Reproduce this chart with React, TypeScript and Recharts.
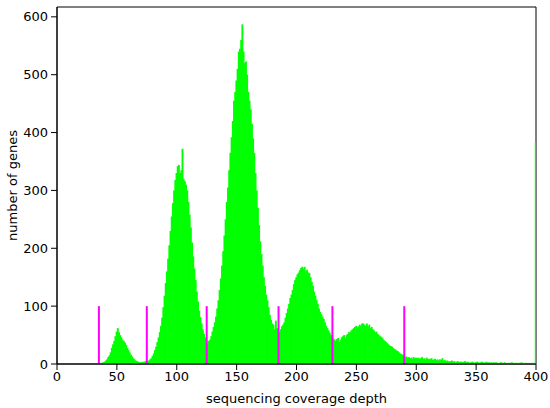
import { ComposedChart, Bar, XAxis, YAxis, ReferenceLine, ReferenceArea } from "recharts";

// histogram counts, one bin per depth unit (bin i covers [i, i+1))
const counts: number[] = [
  0, 0, 0, 0, 0, 0, 0, 0, 0, 0,
  0, 0, 0, 0, 0, 0, 0, 0, 0, 0,
  0, 0, 0, 0, 0, 0, 0, 0, 0, 0,
  0, 1, 0, 1, 1, 1, 2, 2, 3, 4,
  6, 8, 12, 15, 20, 28, 34, 40, 48, 56,
  62, 55, 50, 46, 42, 40, 37, 33, 28, 24,
  20, 16, 13, 10, 8, 6, 5, 4, 3, 3,
  3, 4, 3, 5, 5, 5, 6, 8, 10, 14,
  18, 24, 30, 38, 46, 55, 66, 80, 98, 118,
  140, 160, 182, 205, 230, 255, 278, 300, 318, 330,
  342, 344, 330, 335, 372, 320, 316, 310, 300, 280,
  258, 236, 210, 186, 165, 145, 125, 108, 92, 81,
  70, 60, 52, 46, 42, 36, 40, 42, 48, 56,
  64, 72, 82, 96, 110, 128, 148, 170, 195, 222,
  250, 280, 305, 335, 365, 392, 420, 455, 470, 490,
  510, 540, 545, 560, 587, 540, 520, 523, 500, 470,
  455, 440, 415, 390, 365, 330, 300, 270, 240, 212,
  190, 170, 150, 135, 120, 110, 98, 85, 76, 70,
  68, 60, 75, 62, 58, 55, 60, 65, 68, 72,
  80, 88, 96, 104, 114, 120, 128, 138, 145, 150,
  155, 158, 162, 166, 168, 165, 168, 160, 163, 158,
  157, 150, 142, 135, 125, 118, 111, 104, 96, 90,
  86, 82, 78, 72, 66, 62, 58, 54, 50, 46,
  44, 42, 40, 43, 45, 38, 42, 46, 48, 50,
  45, 50, 52, 55, 55, 58, 60, 62, 64, 66,
  63, 65, 68, 66, 70, 70, 68, 66, 70, 65,
  68, 62, 64, 60, 58, 55, 56, 52, 50, 48,
  47, 45, 42, 40, 38, 36, 34, 32, 31, 30,
  28, 26, 25, 23, 22, 20, 18, 17, 16, 15,
  12, 13, 11, 12, 10, 11, 9, 12, 10, 11,
  10, 11, 9, 10, 12, 9, 10, 8, 11, 9,
  8, 9, 10, 7, 8, 9, 7, 8, 6, 8,
  7, 10, 6, 7, 5, 6, 5, 4, 5, 6,
  4, 5, 3, 4, 5, 3, 4, 4, 3, 4,
  5, 3, 4, 3, 2, 3, 4, 3, 2, 3,
  4, 3, 2, 3, 4, 3, 2, 3, 4, 2,
  3, 2, 3, 2, 3, 2, 3, 2, 1, 2,
  3, 2, 2, 3, 1, 2, 2, 1, 2, 3,
  2, 1, 2, 2, 1, 2, 1, 3, 1, 2,
  1, 2, 1, 1, 2, 1, 2, 1, 2, 383,
];

// magenta cut-off markers
const cutoffs = [35, 75, 125, 185, 230, 290];
const cutoffHeight = 100;

const xTicks = [0, 50, 100, 150, 200, 250, 300, 350, 400];
const yTicks = [0, 100, 200, 300, 400, 500, 600];
const xMax = 400;
const yMax = 617;

const data = counts.map((c, i) => ({ depth: i + 0.5, genes: c }));

const font = { fontFamily: "DejaVu Sans", fontSize: 13, fill: "#000" };

// recharts floors the bar width to 1px while a bin is ~1.2px wide,
// so each bar is widened a little to overlap its neighbour and hide the seams
const HistBar = (props: any) => {
  const { x, y, width, height } = props;
  if (!height || height <= 0) return null;
  return <rect x={x} y={y} width={width + 0.9} height={height} fill="#00ff00" />;
};

export default function App() {
  return (
    <div style={{ position: "absolute", left: 0, top: 0, background: "#fff" }}>
      <ComposedChart
        width={550}
        height={408}
        data={data}
        margin={{ top: 7, right: 14, bottom: 0, left: 0 }}
        barCategoryGap={0}
        barGap={0}
      >
        <XAxis
          dataKey="depth"
          type="number"
          domain={[0, xMax]}
          ticks={xTicks}
          allowDataOverflow
          height={44}
          tickSize={6}
          tickMargin={2}
          stroke="#000"
          tick={font}
          label={{ value: "sequencing coverage depth", position: "insideBottom", offset: 5, style: font }}
        />
        <YAxis
          type="number"
          domain={[0, yMax]}
          ticks={yTicks}
          allowDataOverflow
          width={57}
          tickSize={6}
          tickMargin={3}
          stroke="#000"
          tick={font}
          label={{ value: "number of genes", angle: -90, position: "insideLeft", offset: 12, style: { ...font, textAnchor: "middle" } }}
        />
        <Bar dataKey="genes" fill="#00ff00" shape={HistBar} isAnimationActive={false} />
        {cutoffs.map((c) => (
          <ReferenceLine
            key={c}
            segment={[{ x: c, y: 0 }, { x: c, y: cutoffHeight }]}
            stroke="#ff00ff"
            strokeWidth={2}
            ifOverflow="visible"
          />
        ))}
        {/* frame around the plot area */}
        <ReferenceArea x1={0} x2={xMax} y1={0} y2={yMax} fill="none" stroke="#000" strokeWidth={1} ifOverflow="visible" />
      </ComposedChart>
    </div>
  );
}
